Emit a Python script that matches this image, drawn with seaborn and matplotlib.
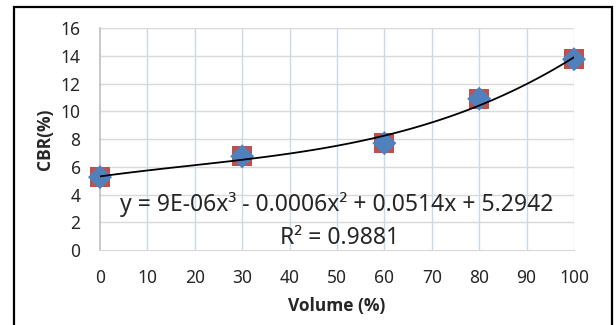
import numpy as np
import pandas as pd
import matplotlib
matplotlib.use("Agg")
import matplotlib.pyplot as plt
import seaborn as sns
from matplotlib.patches import Rectangle

volume = [0, 30, 60, 80, 100]
cbr = [5.25, 6.75, 7.7, 10.9, 13.75]
eq_text = "y = 9E-06x³ - 0.0006x² + 0.0514x + 5.2942"
r2_text = "R² = 0.9881"

df = pd.DataFrame({"Volume (%)": volume, "CBR(%)": cbr})

sns.set_style("white")
plt.rcParams["font.family"] = ["Noto Sans", "DejaVu Sans"]

fig = plt.figure(figsize=(6.16, 3.25), dpi=100)
ax = fig.add_axes([100 / 616, 75 / 325, 474 / 616, 222 / 325])

# border round the chart
fig.patches.append(Rectangle((14 / 616, -0.05), 598 / 616, 1.05 - 7 / 325,
                             transform=fig.transFigure, fill=False,
                             edgecolor="black", linewidth=1.6))

ax.set_xlim(0, 100)
ax.set_ylim(0, 16)
ax.set_xticks(range(0, 101, 10))
ax.set_yticks(range(0, 17, 2))
for xv in range(10, 101, 10):
    ax.axvline(xv, color="#c9d8ec", lw=1, zorder=0)
for yv in range(2, 17, 2):
    ax.axhline(yv, color="#d9d9d9", lw=1, zorder=0)
for s in ["top", "right"]:
    ax.spines[s].set_visible(False)
ax.spines["left"].set_color("#bfbfbf")
ax.spines["bottom"].set_color("#d9d9d9")
ax.spines["left"].set_linewidth(1.2)

sns.scatterplot(data=df, x="Volume (%)", y="CBR(%)", marker="s", s=210,
                color="#c0504d", edgecolor="none", ax=ax, zorder=3, clip_on=False)
sns.scatterplot(data=df, x="Volume (%)", y="CBR(%)", marker="D", s=150,
                color="#4f81bd", edgecolor="none", ax=ax, zorder=4, clip_on=False)
sns.regplot(data=df, x="Volume (%)", y="CBR(%)", order=3, ci=None, scatter=False,
            line_kws={"color": "black", "lw": 1.3, "zorder": 5}, ax=ax, truncate=True)

ax.text(50, 3.25, eq_text, ha="center", va="center", fontsize=16.5)
ax.text(50.5, 0.9, r2_text, ha="center", va="center", fontsize=16.5)

ax.tick_params(axis="both", length=0, labelsize=12.5)
ax.tick_params(axis="x", pad=14)
ax.tick_params(axis="y", pad=14)
ax.set_xlabel("Volume (%)", fontsize=12.5, fontweight="bold", labelpad=7,
              family=["Open Sans", "DejaVu Sans"])
ax.set_ylabel("CBR(%)", fontsize=12.5, fontweight="bold", labelpad=5,
              family=["Open Sans", "DejaVu Sans"])

fig.savefig("out.png", dpi=100)
